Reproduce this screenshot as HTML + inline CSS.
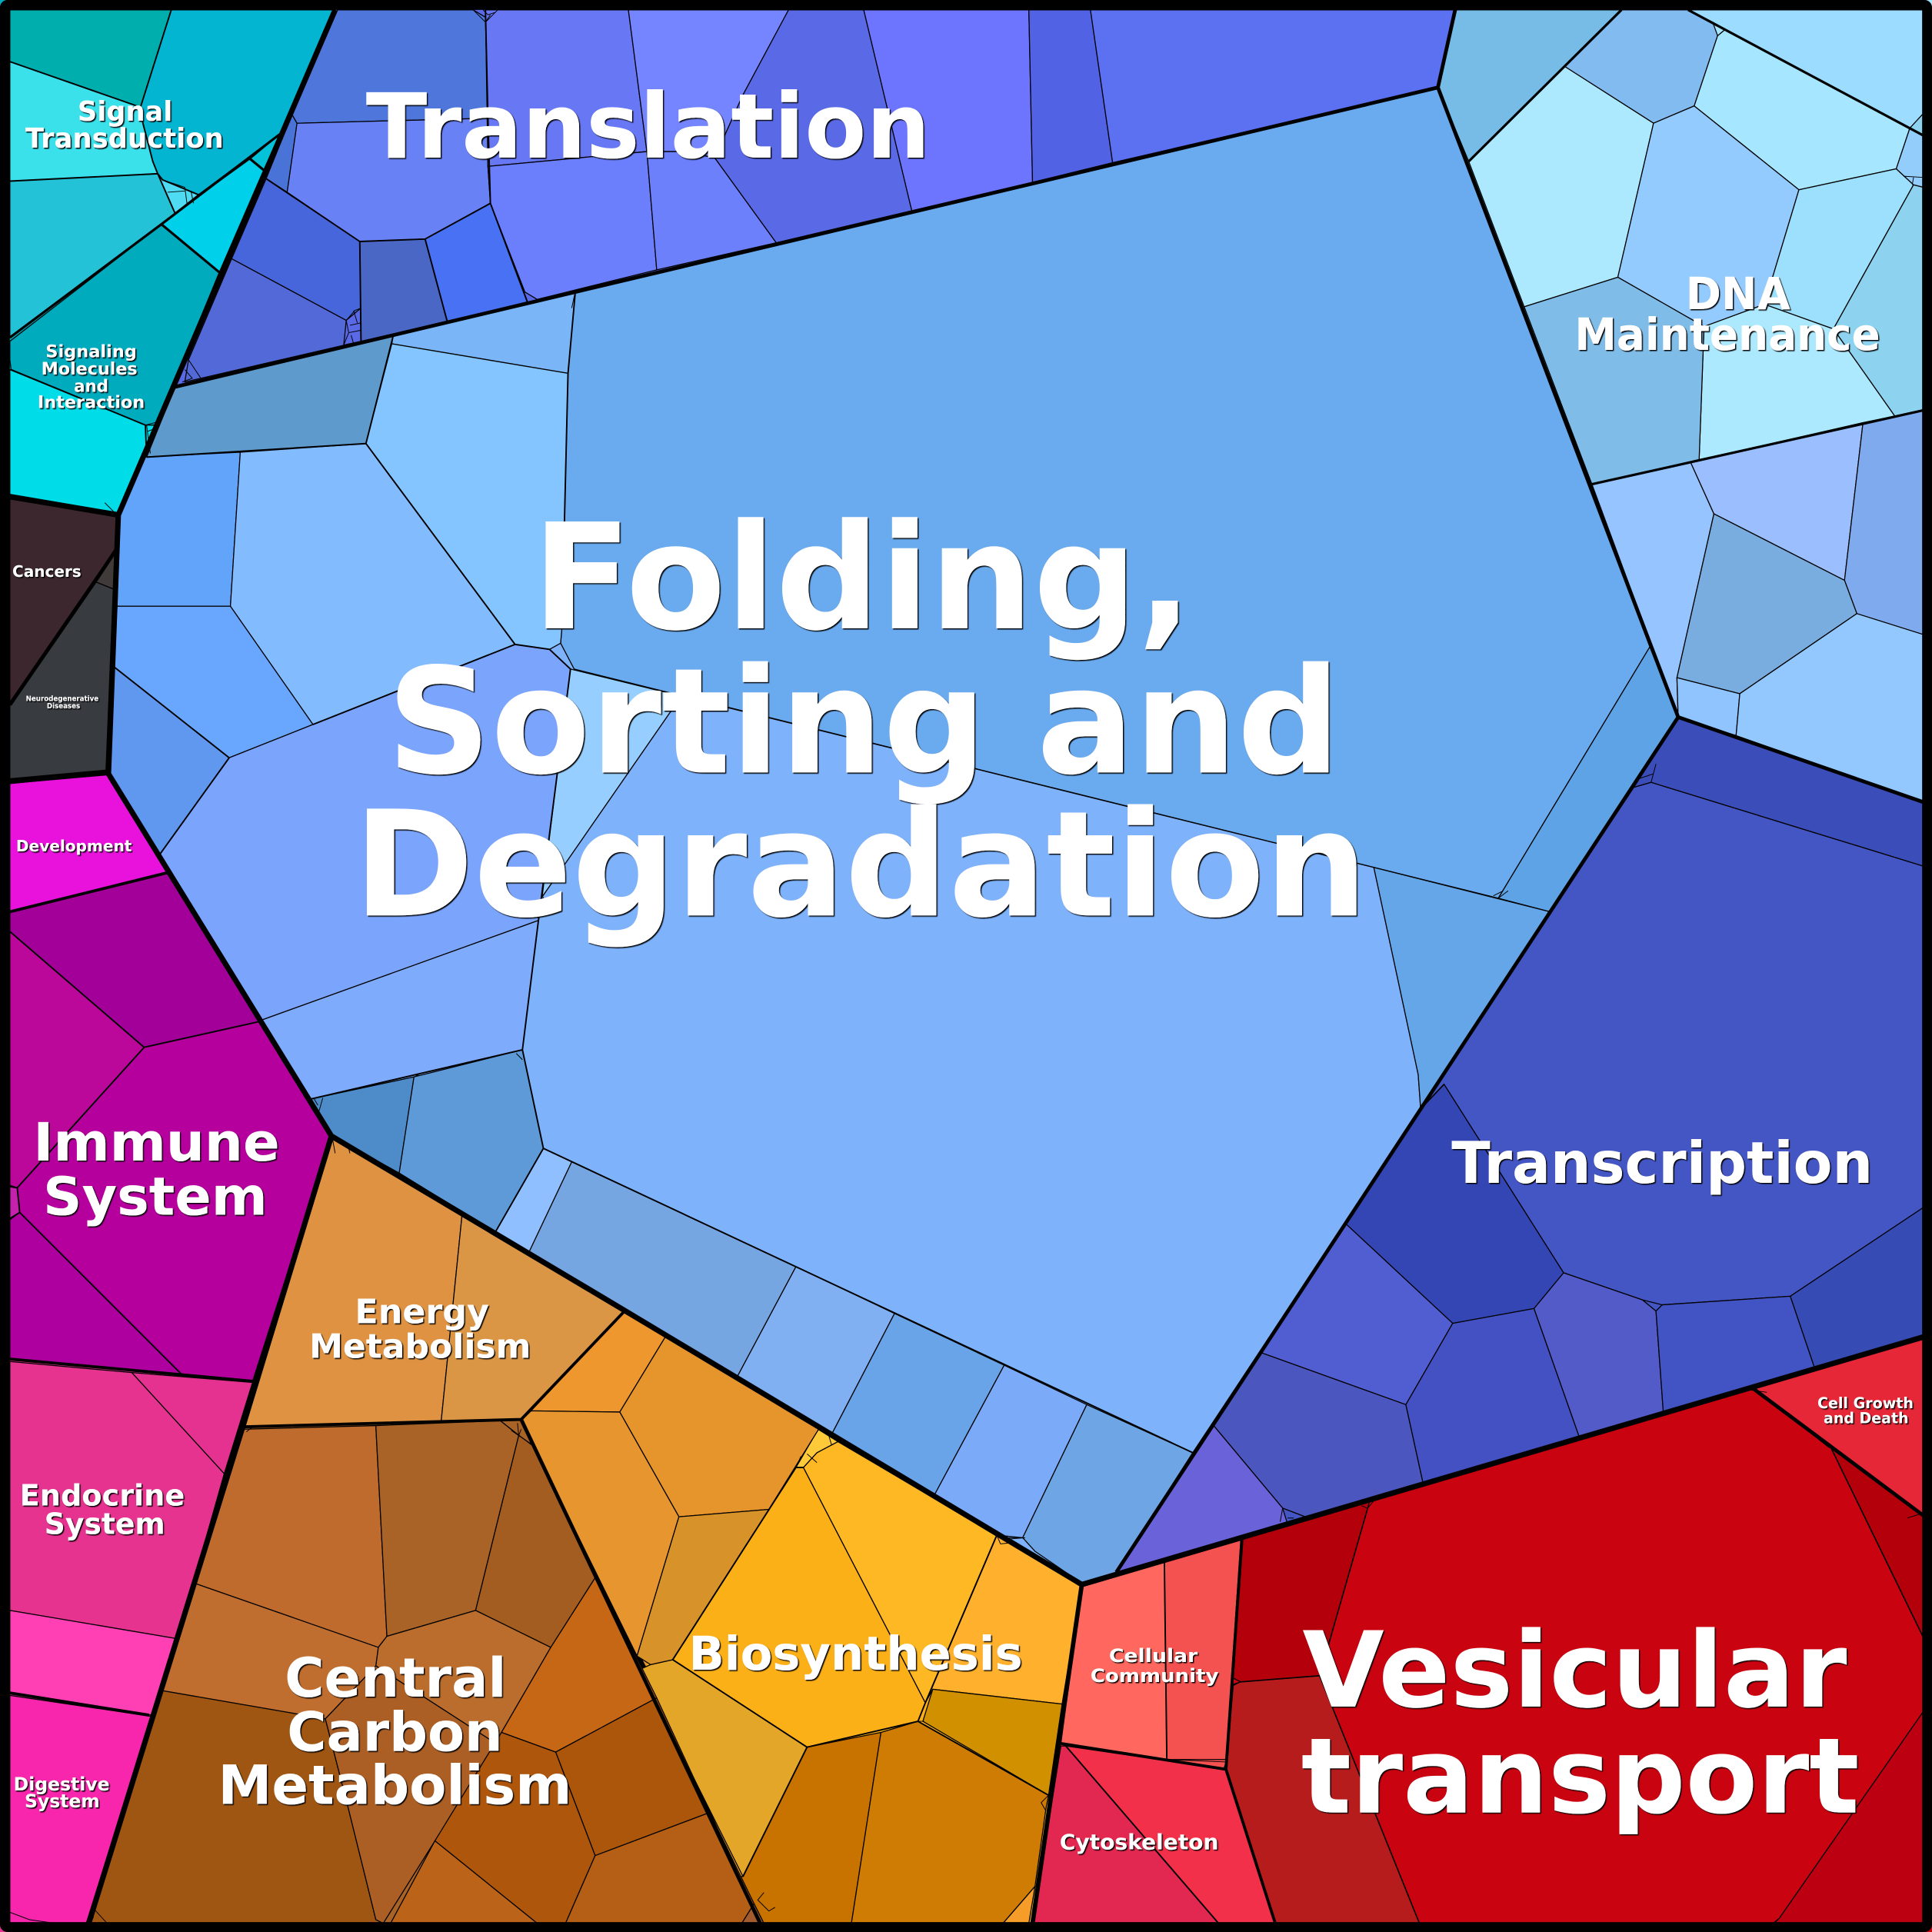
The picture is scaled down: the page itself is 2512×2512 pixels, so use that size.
<!DOCTYPE html>
<html><head><meta charset="utf-8"><style>
html,body{margin:0;padding:0;background:#000}
svg{display:block;width:2512px;height:2512px}
text{font-family:"DejaVu Sans","Liberation Sans",sans-serif;font-weight:bold;fill:#fff;text-anchor:start}
</style></head><body>
<svg xmlns="http://www.w3.org/2000/svg" viewBox="0 0 1568 1568">
<defs><filter id="s" x="-5%" y="-5%" width="110%" height="110%"><feDropShadow dx="0.9" dy="0.9" stdDeviation="0.25" flood-color="#000" flood-opacity="1"/></filter></defs>
<rect width="1568" height="1568" fill="#000"/>
<!-- group underlays -->
<g>
<polygon fill="#00abbd" points="0,0 272,0 96,418 0,402"/>
<polygon fill="#5a6ae6" points="272,0 1183,0 1167,71 142,314"/>
<polygon fill="#7eb2fb" points="142,314 1167,71 1362,582 906,1276 878,1286 269,922 88,628 96,418"/>
<polygon fill="#a6e6ff" points="1183,0 1568,0 1568,333 1292,393 1167,71"/>
<polygon fill="#93c8ff" points="1292,393 1568,333 1568,653 1362,582"/>
<polygon fill="#4456c4" points="1362,582 1568,653 1568,1083 878,1286 906,1276"/>
<polygon fill="#ca0310" points="1008,1247 1423,1126 1568,1234 1568,1568 1038,1568 995,1436"/>
<polygon fill="#e52738" points="1423,1126 1568,1083 1568,1234"/>
<polygon fill="#f45250" points="878,1286 1008,1247 995,1436 861,1415"/>
<polygon fill="#f33049" points="861,1415 995,1436 1038,1568 836,1568"/>
<polygon fill="#fcb018" points="666,1158 878,1286 836,1568 620,1568 524,1352"/>
<polygon fill="#e7962f" points="423,1152 506,1063 666,1158 524,1352"/>
<polygon fill="#df9342" points="269,922 506,1063 423,1152 197,1158"/>
<polygon fill="#a96326" points="197,1158 423,1152 620,1568 70,1568"/>
<polygon fill="#b6009d" points="0,740 137,708 269,922 205,1121 0,1103"/>
<polygon fill="#e6338f" points="0,1103 205,1121 70,1568 0,1568"/>
</g>
<g stroke="#000" stroke-width=".8" stroke-linejoin="round">
<!-- Signal -->
<polygon fill="#00aeae" points="8,8 139,8 114,87 8,50"/>
<polygon fill="#3ae0ea" points="8,50 114,87 116,100 124,131 128,141 8,147"/>
<polygon fill="#03b5d1" points="139,8 272,8 227,109 161,158 132,146 128,141 124,131 116,100 114,87"/>
<polygon fill="#4fdcf2" points="132,146 161,158 142,173 128,141"/>
<polygon fill="#24c2d6" points="8,147 128,141 142,173 131,182 8,274"/>
<polygon fill="#00d0ea" points="131,182 142,173 203,129 214,138 178,221"/>
<polygon fill="#04c3d9" points="203,129 227,109 214,138"/>
<polygon fill="#00abbd" points="8,277 131,182 178,221 127,345 118,345 9,300 8,292"/>
<polygon fill="#00dde8" points="8,300 118,345 126,345 96,416 8,402"/>
<!-- Translation -->
<polygon fill="#4f76db" points="274,8 384,8 394,14 396,96 241,100 237,93"/>
<polygon fill="#6881f5" points="241,100 396,96 396,135 398,165 345,194 292,196 233,156"/>
<polygon fill="#4a73d8" points="237,93 241,100 233,156 216,145"/>
<polygon fill="#4766db" points="216,145 233,156 292,196 293,250 281,260 188,210"/>
<polygon fill="#5269d7" points="188,210 281,260 279,280 293,277 163,307 150,310 153,292"/>
<polygon fill="#4a67c5" points="292,196 345,194 363,261 293,277"/>
<polygon fill="#4872f3" points="345,194 398,165 428,245 363,261"/>
<polygon fill="#6878f5" points="394,8 510,8 525,123 396,135"/>
<polygon fill="#6b7efc" points="396,135 525,123 533,219 436,243 426,237 398,165"/>
<polygon fill="#7585ff" points="510,8 640,8 603,77 580,128 553,123 525,123"/>
<polygon fill="#6c80fb" points="525,123 553,123 580,128 630,197 533,219"/>
<polygon fill="#5a6ae6" points="640,8 701,8 740,171 630,197 580,128 603,77"/>
<polygon fill="#6d75ff" points="701,8 835,8 838,148 740,171"/>
<polygon fill="#5162e4" points="835,8 885,8 903,132 838,148"/>
<polygon fill="#5c70f2" points="885,8 1181,8 1167,71 903,132"/>
<!-- Folding -->
<polygon fill="#6aaaee" points="467,236 1167,71 1339,525 1216,729 466,543 455,522 456,510 461,303"/>
<polygon fill="#5da3e5" points="1339,525 1362,582 1258,740 1216,729"/>
<polygon fill="#96cfff" points="463,543 553,565 440,728 452,630"/>
<polygon fill="#7eb2fb" points="553,565 1115,704 1151,872 1153,900 968,1179 441,932 424,852 437,747 440,728"/>
<polygon fill="#64a6e8" points="1115,704 1258,740 1153,900 1151,872"/>
<polygon fill="#7ab6f7" points="467,236 461,303 318,279 319,273"/>
<polygon fill="#5e9acb" points="142,314 319,273 297,360 119,371"/>
<polygon fill="#84c4ff" points="318,279 461,303 456,510 455,522 446,527 418,523 297,360"/>
<polygon fill="#62a4f9" points="115,371 195,367 187,492 95,492 97,418"/>
<polygon fill="#83bbff" points="195,367 297,360 418,523 254,588 187,492"/>
<polygon fill="#69a6fd" points="95,492 187,492 254,588 186,615 91,540"/>
<polygon fill="#6097ef" points="91,540 186,615 130,693 88,628"/>
<polygon fill="#7ba5fd" points="186,615 254,588 418,523 446,527 463,543 452,630 437,747 212,828 130,693"/>
<polygon fill="#7eabfb" points="212,828 437,747 424,852 252,892"/>
<polygon fill="#4e8cc9" points="252,892 336,874 324,952 269,922"/>
<polygon fill="#5e9ad8" points="336,874 424,852 441,932 402,1000 324,952"/>
<polygon fill="#8fbfff" points="441,932 464,943 429,1017 402,1000"/>
<polygon fill="#76a6e2" points="464,943 646,1028 598,1118 429,1017"/>
<polygon fill="#80b0f2" points="646,1028 726,1066 675,1164 598,1118"/>
<polygon fill="#69a3e8" points="726,1066 815,1108 758,1214 675,1164"/>
<polygon fill="#7aaaf8" points="815,1108 882,1140 830,1248 810,1246 758,1214"/>
<polygon fill="#6ea5e4" points="882,1140 968,1179 906,1276 878,1285 840,1259 830,1248"/>
<!-- DNA -->
<polygon fill="#76bce6" points="1180,8 1316,8 1270,54 1192,131 1167,71"/>
<polygon fill="#82bbf0" points="1316,8 1370,8 1390,18 1394,29 1375,86 1342,100 1270,54"/>
<polygon fill="#9cdcff" points="1370,8 1561,8 1561,110 1550,104 1400,24 1390,18"/>
<polygon fill="#a6e6ff" points="1400,24 1550,104 1539,137 1460,154 1375,86 1394,29"/>
<polygon fill="#ace9ff" points="1270,54 1342,100 1313,225 1237,249 1192,131"/>
<polygon fill="#94cbff" points="1342,100 1375,86 1460,154 1432,247 1383,265 1376,261 1313,225"/>
<polygon fill="#9ce0fd" points="1460,154 1539,137 1553,150 1488,267 1432,247"/>
<polygon fill="#8dd3f0" points="1553,150 1561,152 1561,333 1538,338 1488,267"/>
<polygon fill="#ace9ff" points="1383,265 1432,247 1488,267 1538,338 1379,373"/>
<polygon fill="#7fbde8" points="1237,249 1313,225 1376,261 1383,265 1379,373 1292,393"/>
<polygon fill="#8dd3f0" points="1550,104 1561,92 1561,110"/>
<polygon fill="#93cdfc" points="1539,137 1550,104 1561,110 1561,152 1553,150"/>
<!-- right blue -->
<polygon fill="#95c4ff" points="1292,393 1372,375 1391,417 1361,550 1362,582"/>
<polygon fill="#9bbffe" points="1372,375 1512,343 1497,471 1391,417"/>
<polygon fill="#7fabee" points="1512,343 1561,333 1561,515 1507,498 1497,471"/>
<polygon fill="#79addf" points="1391,417 1497,471 1507,498 1412,563 1361,550"/>
<polygon fill="#8fc4fe" points="1361,550 1412,563 1409,597 1362,582"/>
<polygon fill="#93c8ff" points="1412,563 1507,498 1561,515 1561,651 1409,597"/>
<!-- Transcription -->
<polygon fill="#3b4db8" points="1362,582 1561,651 1561,703 1340,635 1326,639"/>
<polygon fill="#4456c4" points="1326,639 1340,635 1561,703 1561,980 1453,1052 1349,1059 1333,1055 1269,1033 1172,880 1153,900"/>
<polygon fill="#3446b4" points="1172,880 1269,1033 1245,1062 1179,1074 1092,993 1153,900"/>
<polygon fill="#505ed2" points="1092,993 1179,1074 1141,1140 1024,1098"/>
<polygon fill="#4c56bf" points="1024,1098 1141,1140 1155,1204 1062,1232 1041,1224 985,1157"/>
<polygon fill="#4351c2" points="1179,1074 1245,1062 1282,1167 1155,1204 1141,1140"/>
<polygon fill="#535bc8" points="1245,1062 1269,1033 1333,1055 1344,1064 1350,1147 1282,1167"/>
<polygon fill="#4254c4" points="1344,1064 1349,1059 1453,1052 1473,1111 1350,1147"/>
<polygon fill="#364cb4" points="1453,1052 1561,980 1561,1085 1473,1111"/>
<polygon fill="#6a62d9" points="985,1157 1041,1224 1045,1237 906,1276"/>
<!-- Vesicular -->
<polygon fill="#ca0310" points="1112,1217 1423,1126 1430,1132 1486,1175 1561,1329 1561,1389 1444,1557 1439,1561 1152,1561 1071,1360 1110,1224"/>
<polygon fill="#b4000b" points="1008,1247 1112,1217 1110,1224 1071,1360 1007,1365 1001,1362"/>
<polygon fill="#b71c1c" points="1001,1367 1007,1365 1071,1360 1152,1561 1035,1561 995,1436"/>
<polygon fill="#b4000b" points="1486,1175 1561,1230 1561,1329"/>
<polygon fill="#bd0011" points="1561,1389 1561,1561 1439,1561 1444,1557"/>
<polygon fill="#e52738" points="1423,1127 1561,1087 1561,1230 1486,1175"/>
<polygon fill="#ff675f" points="878,1287 945,1268 947,1428 861,1415"/>
<polygon fill="#f45250" points="945,1268 1007,1250 995,1428 947,1428"/>
<polygon fill="#f33049" points="865,1417 995,1436 1035,1561 989,1561"/>
<polygon fill="#e22750" points="861,1417 865,1417 989,1561 838,1561"/>
<!-- Biosynthesis -->
<polygon fill="#fdb824" points="652,1191 663,1179 680,1170 809,1246 751,1382"/>
<polygon fill="#ffca3a" points="646,1191 664,1160 680,1170 663,1179 652,1191"/>
<polygon fill="#fcb018" points="652,1191 751,1382 745,1397 655,1418 546,1347 646,1191"/>
<polygon fill="#ffb02c" points="809,1246 822,1252 878,1286 862,1383 757,1371 751,1382"/>
<polygon fill="#d09000" points="757,1371 862,1383 851,1457 749,1397"/>
<polygon fill="#e3a628" points="546,1347 655,1418 603,1523 519,1355 528,1351"/>
<polygon fill="#c87200" points="655,1418 715,1406 691,1561 620,1561 600,1523 603,1523"/>
<polygon fill="#cf7c05" points="715,1406 745,1397 851,1457 849,1467 840,1531 814,1561 691,1561"/>
<polygon fill="#f59d28" points="840,1531 835,1561 814,1561"/>
<!-- Amino -->
<polygon fill="#ee972e" points="506,1065 540,1085 503,1146 431,1145"/>
<polygon fill="#e6952c" points="540,1085 665,1159 624,1225 551,1231 503,1146"/>
<polygon fill="#e7962f" points="431,1145 503,1146 551,1231 517,1344 423,1153"/>
<polygon fill="#d8922a" points="551,1231 624,1225 546,1347 528,1351 517,1344"/>
<!-- Energy -->
<polygon fill="#df9342" points="269,922 375,986 358,1154 197,1158"/>
<polygon fill="#db9645" points="375,986 506,1065 423,1152 358,1154"/>
<!-- Carbon -->
<polygon fill="#c06b2e" points="196,1160 305,1157 314,1328 307,1337 158,1285"/>
<polygon fill="#a96326" points="305,1157 406,1153 421,1165 386,1307 314,1328"/>
<polygon fill="#a35d20" points="421,1165 434,1174 484,1279 447,1337 386,1307"/>
<polygon fill="#ba6d2d" points="305,1352 307,1337 314,1328 386,1307 447,1337 407,1406 404,1416"/>
<polygon fill="#ab5f25" points="305,1352 404,1416 353,1494 311,1561 305,1558 282,1465 264,1395"/>
<polygon fill="#bf6e30" points="158,1285 307,1337 305,1352 264,1395 131,1372"/>
<polygon fill="#a05613" points="131,1372 264,1395 282,1465 305,1558 311,1561 72,1561"/>
<polygon fill="#c66716" points="484,1279 533,1378 451,1422 407,1406 447,1337"/>
<polygon fill="#ab560a" points="533,1378 576,1471 483,1506 451,1422"/>
<polygon fill="#ae570c" points="407,1406 451,1422 483,1506 459,1561 436,1561 353,1494"/>
<polygon fill="#bb6419" points="353,1494 436,1561 317,1561"/>
<polygon fill="#b55f16" points="483,1506 576,1471 612,1545 602,1561 459,1561"/>
<polygon fill="#a45c2e" points="612,1545 620,1561 602,1561"/>
<!-- Immune -->
<polygon fill="#a3009a" points="8,740 137,708 211,829 117,850 8,756"/>
<polygon fill="#bb089a" points="8,756 117,850 14,964 8,963"/>
<polygon fill="#b6009d" points="117,850 211,829 269,922 205,1121 189,1120 147,1115 16,984 14,964"/>
<polygon fill="#ae009f" points="8,990 16,984 147,1115 8,1103"/>
<polygon fill="#c421ac" points="8,962 14,964 16,984 8,989"/>
<!-- Endocrine -->
<polygon fill="#e6338f" points="8,1105 107,1114 182,1196 144,1330 8,1307"/>
<polygon fill="#e5318f" points="107,1114 205,1122 182,1196"/>
<polygon fill="#ff40b4" points="8,1307 144,1330 123,1392 8,1374"/>
<polygon fill="#f726ad" points="8,1376 123,1393 70,1561 8,1561"/>
<!-- Left small -->
<polygon fill="#e812dc" points="8,636 87,628 137,708 8,740"/>
<polygon fill="#383b40" points="8,572 77,472 92,478 86,625 8,632"/>
<polygon fill="#3c272f" points="8,405 95,419 94,445 8,570"/>
<polygon fill="#403a38" points="94,446 77,472 92,478"/>
</g>
<!-- tiny cells -->
<g fill="none" stroke="#000" stroke-width=".6">
<path d="M281,260 L288,252 L293,250 M281,260 L283,270 L279,280 M283,270 L293,268 M284,264 L293,262 M287,252 L290,262 M285,272 L287,279"/>
<path d="M384,8 L394,18 L404,8 M394,18 L398,12 M392,8 L396,12 L402,10"/>
<path d="M132,146 L150,152 L152,167 M136,156 L150,155 M155,155 L157,165"/>
<path d="M153,292 L163,307 M150,300 L156,307 L148,310"/>
<path d="M118,345 L130,342 M120,350 L128,347 M119,345 L122,368"/>
<path d="M85,408 L95,418 M1390,18 L1400,24 M1394,29 L1400,24"/>
<path d="M1539,137 L1553,150 M1545,143 L1561,144 M1553,144 L1552,150"/>
<path d="M1340,635 L1344,620 M1326,639 L1340,635 M1330,632 L1342,628"/>
<path d="M1333,1055 L1344,1064 L1349,1059 M1041,1224 L1062,1232 M1041,1224 L1039,1235 M1045,1232 L1050,1232"/>
<path d="M664,1160 L680,1170 M655,1180 L663,1187 M672,1163 L675,1173 M650,1182 L646,1191 L652,1191"/>
<path d="M809,1246 L812,1253 L822,1252 M820,1249 L832,1248"/>
<path d="M406,1153 L433,1174 M415,1161 L421,1165 L420,1155 M423,1160 L421,1165"/>
<path d="M255,892 L258,897 M262,891 L258,905 M269,922 L278,929 M284,936 L282,928 L270,925 L272,936"/>
<path d="M437,747 L441,728 M336,874 L340,872 M419,855 L424,860"/>
<path d="M1216,729 L1224,723 M1212,727 L1220,723 M1110,1224 L1115,1218 M1105,1222 L1110,1224 M1420,1128 L1434,1130"/>
<path d="M830,1248 L815,1248 M812,1248 L825,1252"/>
<path d="M196,1160 L200,1155 M200,1162 L205,1158 M1001,1362 L1007,1365 L1001,1368"/>
<path d="M76,1549 L87,1561 M76,1556 L70,1561 M8,1552 L24,1558 L45,1561"/>
<path d="M467,236 L464,250 M750,1397 L745,1397 M851,1457 L845,1463 L849,1470"/>
<path d="M624,1551 L615,1542 L620,1536 M629,1548 L624,1551"/>
<path d="M1561,1228 L1548,1232 M1440,1561 L1444,1557 M947,1428 L995,1430 L993,1436"/>
</g>
<!-- mid lines -->
<g fill="none" stroke="#000" stroke-linejoin="round">
<g stroke-width="1.2">
<path d="M8,50 L114,87 L139,8 M114,87 L116,100 L124,131 L128,141 L8,147 M128,141 L142,173 M128,141 L132,146 L161,158"/>
<path d="M9,300 L118,345 L119,371"/>
<path d="M216,145 L292,196 L293,277 M292,196 L345,194 L398,165 L428,245 M345,194 L363,261 M394,8 L396,96 L398,165"/>
<path d="M119,371 L297,360 L319,273 M297,360 L418,523 L446,527 L463,543 L452,630 L437,747 L424,852 L252,892 M424,852 L441,932 L968,1179 M441,932 L402,1000 M456,510 L461,303 L467,236 M186,615 L130,693 M91,540 L186,615 M254,588 L418,523"/>
<path d="M1110,1224 L1071,1360 L1007,1365 M1071,1360 L1152,1561 M1486,1175 L1561,1329" stroke-width="1"/>
<path d="M945,1268 L947,1428 M652,1191 L646,1191 L546,1347 L655,1418 L745,1397 L751,1382 L809,1246 M655,1418 L603,1523 M745,1397 L851,1457 M865,1417 L989,1561"/>
<path d="M8,756 L117,850 L211,829 M117,850 L14,964 L16,984 L147,1115 M8,963 L14,964 M8,989 L16,984"/>
<path d="M1172,880 L1153,900 M424,1151 L431,1145 M1485,1175 L1430,1132" stroke-width="1"/>
</g>
<g stroke-width="2">
<path d="M8,274 L131,182 L227,109 M131,182 L178,221 M203,129 L214,138"/>
<path d="M1316,8 L1192,131 M1370,8 L1561,110 M1292,393 L1561,333"/>
<path d="M8,1103 L205,1121 M8,1374 L121,1392 M861,1415 L995,1436 L1008,1249 M995,1436 L1035,1561 M423,1152 L506,1065 M197,1158 L423,1152 M8,740 L137,708" stroke-width="2.4"/>
</g>
<g stroke-width="4.4">
<path d="M272,8 L96,418 L88,628 L269,922 L506,1063 L878,1286 L1561,1085" />
<path d="M8,403 L96,418 M8,634 L88,627"/>
<path d="M77,472 L8,572 M95,445 L77,472" stroke-width="3"/>
<path d="M269,922 L197,1158 L72,1561"/>
<path d="M142,314 L1167,71 L1181,8 M1167,71 L1362,582 L906,1276 M1362,582 L1561,651" stroke-width="3"/>
<path d="M423,1152 L617,1561" stroke-width="3"/>
<path d="M878,1286 L838,1561" stroke-width="3.6"/>
<path d="M1423,1127 L1561,1230" stroke-width="3"/>
</g>
</g>
<rect x="4" y="4" width="1560" height="1560" fill="none" stroke="#000" stroke-width="8" rx="2"/>
<g filter="url(#s)">
<text x="432" y="510" font-size="119" textLength="536" lengthAdjust="spacingAndGlyphs">Folding,</text>
<text x="314" y="627" font-size="119" textLength="774" lengthAdjust="spacingAndGlyphs">Sorting and</text>
<text x="287" y="743" font-size="119" textLength="823" lengthAdjust="spacingAndGlyphs">Degradation</text>
<text x="297" y="128" font-size="73" textLength="458" lengthAdjust="spacingAndGlyphs">Translation</text>
<text x="1057" y="1385" font-size="85" textLength="442" lengthAdjust="spacingAndGlyphs">Vesicular</text>
<text x="1056" y="1471" font-size="85" textLength="453" lengthAdjust="spacingAndGlyphs">transport</text>
<text x="1178" y="960" font-size="47" textLength="342" lengthAdjust="spacingAndGlyphs">Transcription</text>
<text x="1368" y="251" font-size="36" textLength="85" lengthAdjust="spacingAndGlyphs">DNA</text>
<text x="1278" y="284" font-size="36" textLength="248" lengthAdjust="spacingAndGlyphs">Maintenance</text>
<text x="231" y="1377" font-size="44" textLength="180" lengthAdjust="spacingAndGlyphs">Central</text>
<text x="233" y="1421" font-size="44" textLength="175" lengthAdjust="spacingAndGlyphs">Carbon</text>
<text x="177" y="1464" font-size="44" textLength="287" lengthAdjust="spacingAndGlyphs">Metabolism</text>
<text x="559" y="1355" font-size="38" textLength="271" lengthAdjust="spacingAndGlyphs">Biosynthesis</text>
<text x="27" y="942" font-size="43" textLength="200" lengthAdjust="spacingAndGlyphs">Immune</text>
<text x="35" y="986" font-size="43" textLength="182" lengthAdjust="spacingAndGlyphs">System</text>
<text x="288" y="1074" font-size="27" textLength="109" lengthAdjust="spacingAndGlyphs">Energy</text>
<text x="251" y="1102" font-size="27" textLength="180" lengthAdjust="spacingAndGlyphs">Metabolism</text>
<text x="16" y="1222" font-size="24" textLength="134" lengthAdjust="spacingAndGlyphs">Endocrine</text>
<text x="36" y="1245" font-size="24" textLength="98" lengthAdjust="spacingAndGlyphs">System</text>
<text x="11" y="1453" font-size="15" textLength="78" lengthAdjust="spacingAndGlyphs">Digestive</text>
<text x="20" y="1467" font-size="15" textLength="61" lengthAdjust="spacingAndGlyphs">System</text>
<text x="63" y="98" font-size="22" textLength="77" lengthAdjust="spacingAndGlyphs">Signal</text>
<text x="20.500" y="120" font-size="22" textLength="161" lengthAdjust="spacingAndGlyphs">Transduction</text>
<text x="37" y="290" font-size="14" textLength="74" lengthAdjust="spacingAndGlyphs">Signaling</text>
<text x="33.500" y="304" font-size="14" textLength="78" lengthAdjust="spacingAndGlyphs">Molecules</text>
<text x="60" y="318" font-size="14" textLength="28" lengthAdjust="spacingAndGlyphs">and</text>
<text x="30.500" y="331" font-size="14" textLength="87" lengthAdjust="spacingAndGlyphs">Interaction</text>
<text x="10" y="468" font-size="13" textLength="56" lengthAdjust="spacingAndGlyphs">Cancers</text>
<text x="21" y="569" font-size="6.300" textLength="59" lengthAdjust="spacingAndGlyphs">Neurodegenerative</text>
<text x="38" y="575" font-size="6.300" textLength="27" lengthAdjust="spacingAndGlyphs">Diseases</text>
<text x="13" y="691" font-size="13" textLength="94" lengthAdjust="spacingAndGlyphs">Development</text>
<text x="900" y="1349" font-size="15" textLength="72" lengthAdjust="spacingAndGlyphs">Cellular</text>
<text x="885" y="1365" font-size="15" textLength="104" lengthAdjust="spacingAndGlyphs">Community</text>
<text x="860" y="1501" font-size="17" textLength="129" lengthAdjust="spacingAndGlyphs">Cytoskeleton</text>
<text x="1475" y="1143" font-size="12" textLength="78" lengthAdjust="spacingAndGlyphs">Cell Growth</text>
<text x="1480" y="1155" font-size="12" textLength="69" lengthAdjust="spacingAndGlyphs">and Death</text>
</g>
</svg>
</body></html>
